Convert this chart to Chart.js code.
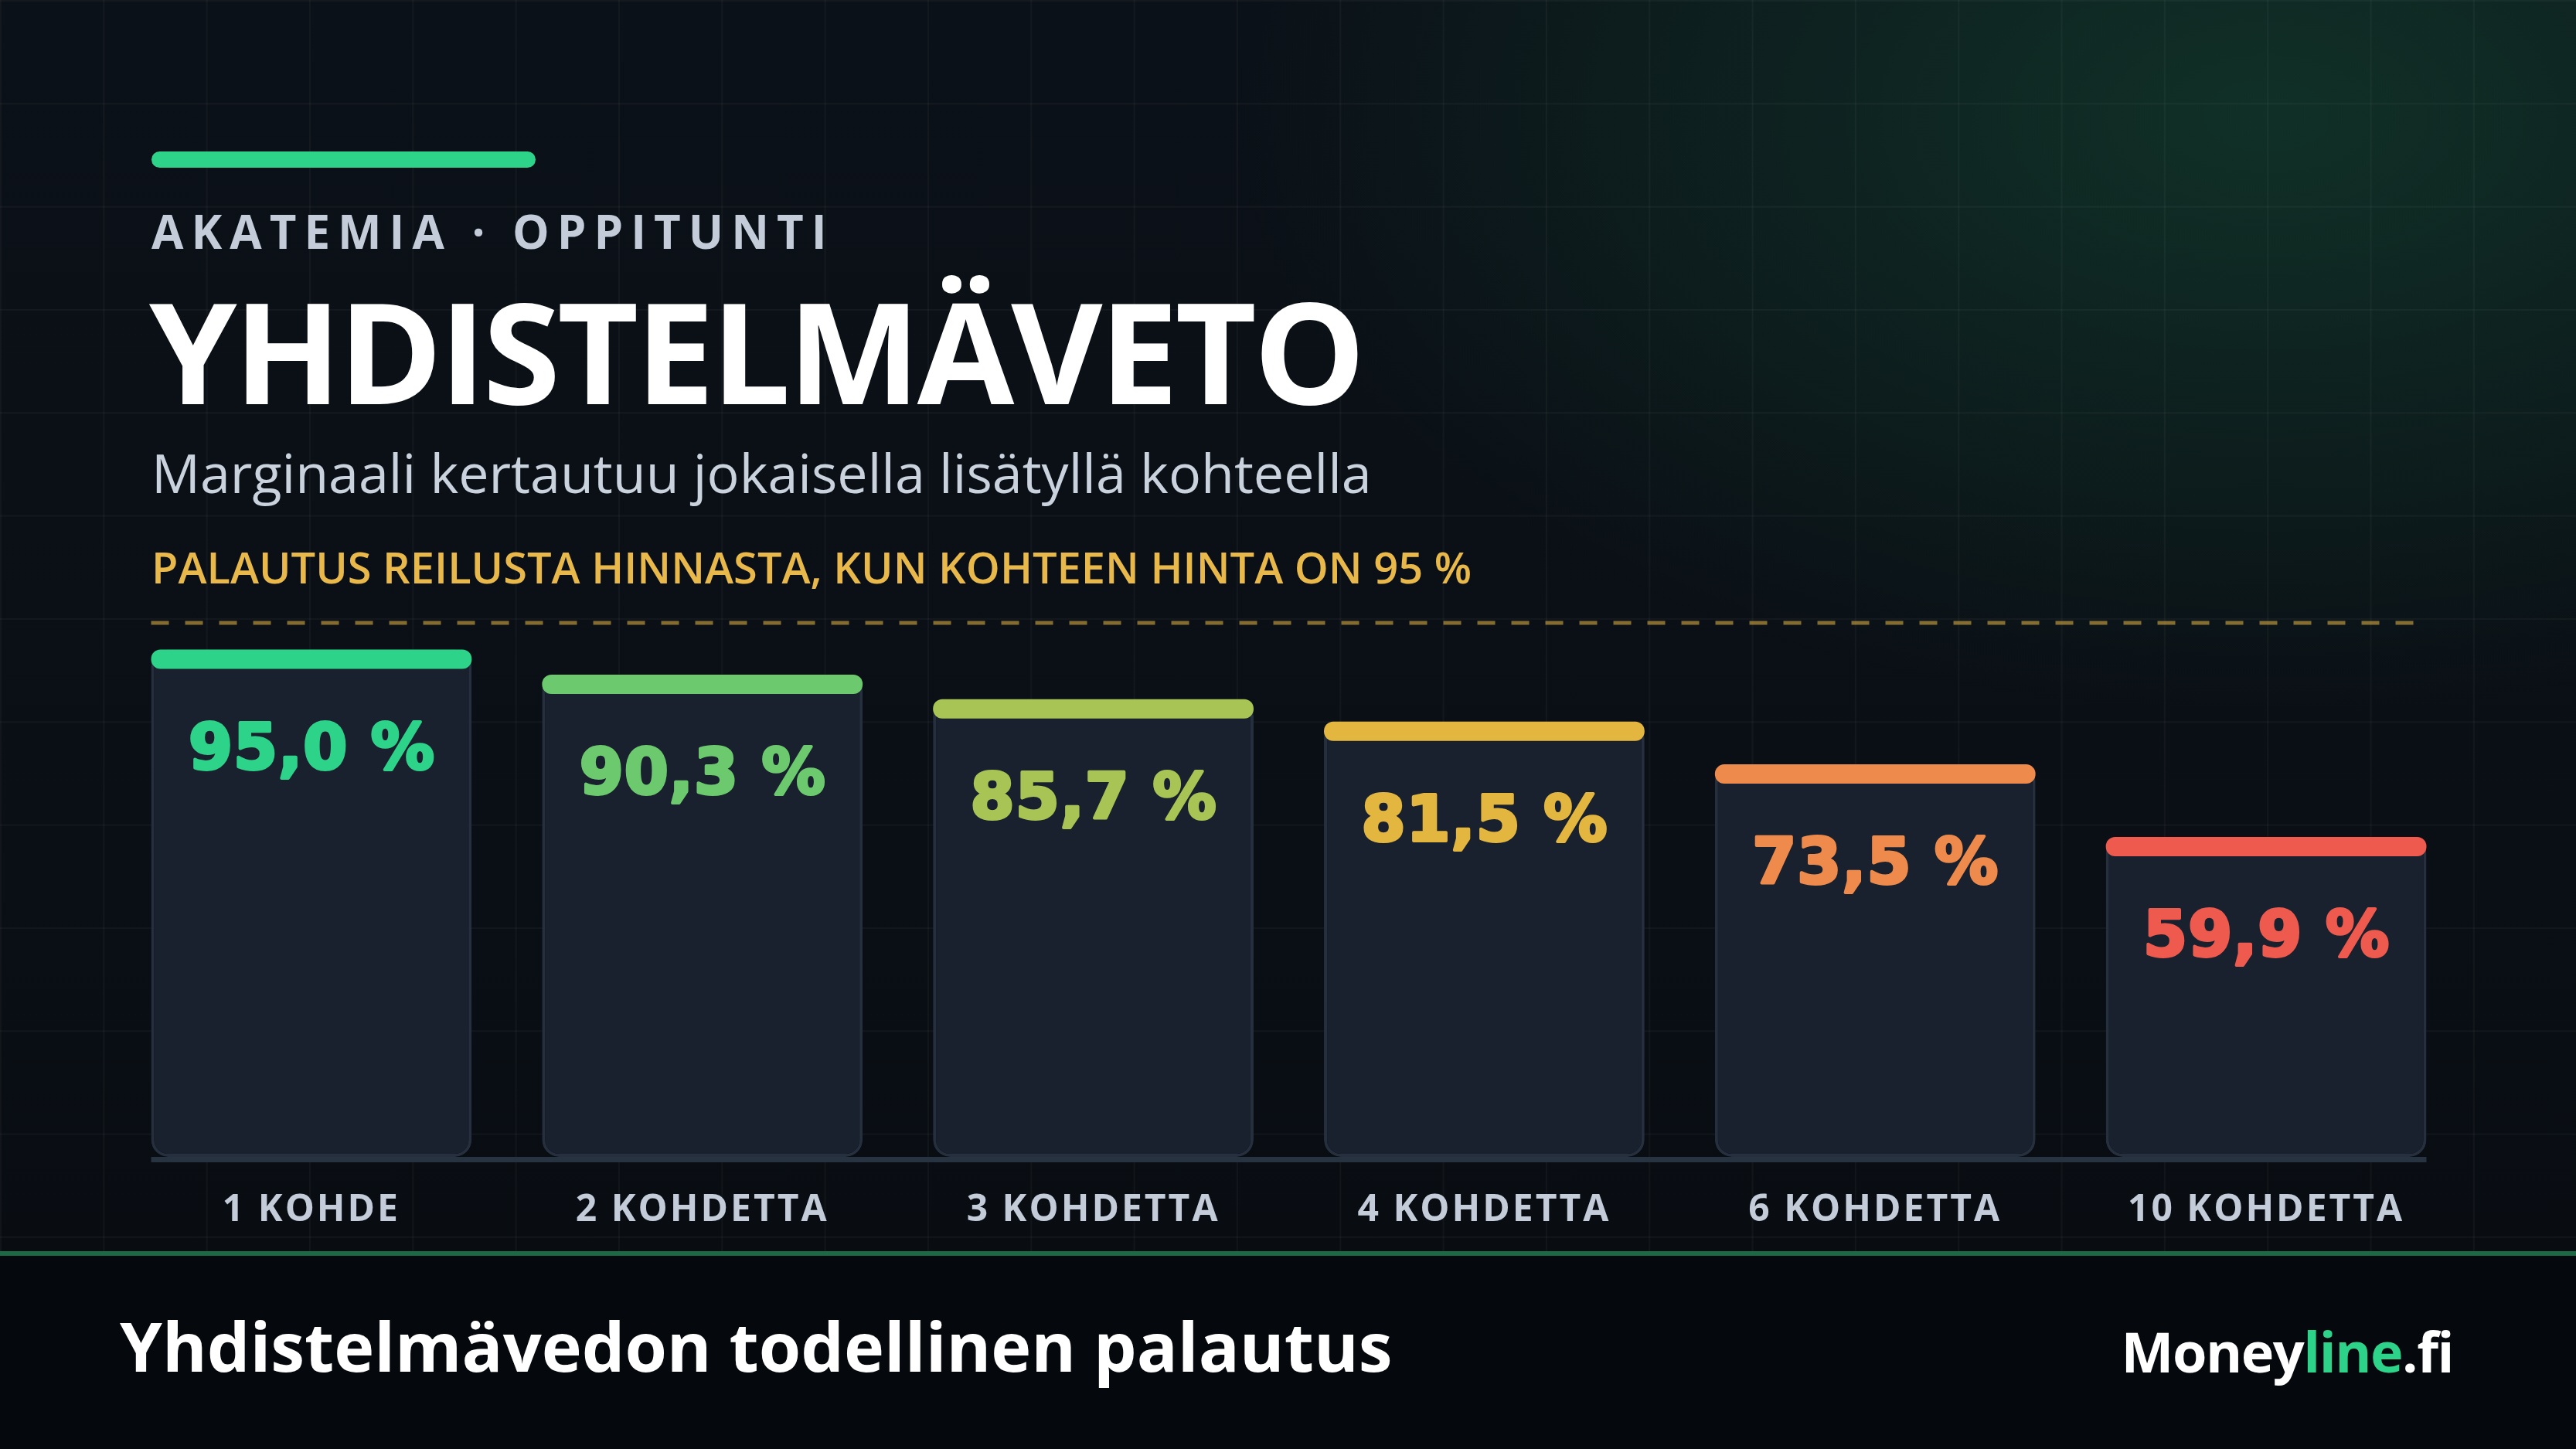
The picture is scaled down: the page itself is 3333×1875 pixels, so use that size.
<!DOCTYPE html>
<html>
<head>
<meta charset="utf-8">
<script src="https://cdn.jsdelivr.net/npm/chart.js@4.4.1/dist/chart.umd.min.js"></script>
<style>
  html, body { margin: 0; padding: 0; }
  body {
    width: 3333px; height: 1875px; position: relative; overflow: hidden;
    background:
      radial-gradient(ellipse 1900px 1100px at 88% 8%, rgba(24, 92, 60, 0.42), rgba(24, 92, 60, 0) 70%),
      linear-gradient(180deg, #0b1118 0%, #0a0f15 60%, #080c11 100%);
    font-family: "Open Sans", sans-serif;
  }
  #grid {
    position: absolute; left: 0; top: 0; width: 3333px; height: 1619px;
    background-image:
      linear-gradient(to right, rgba(255,255,255,0.035) 2px, transparent 2px),
      linear-gradient(to bottom, rgba(255,255,255,0.035) 2px, transparent 2px);
    background-size: 133.333px 133.333px;
  }
  #footer {
    position: absolute; left: 0; top: 1619px; width: 3333px; height: 256px;
    background: #05080c; border-top: 6px solid #1c6a45; box-sizing: border-box;
  }
  #accent {
    position: absolute; left: 196px; top: 196px; width: 497px; height: 21px;
    border-radius: 11px; background: #2ed38a;
  }
  .txt { position: absolute; white-space: nowrap; line-height: 1; }
  #kicker { left: 196px; top: 269px; font-size: 60px; font-weight: 700; letter-spacing: 10px; color: #c3ccd8; }
  #title { left: 193px; top: 361px; font-size: 182px; font-weight: 700; letter-spacing: -4px; color: #ffffff; }
  #subtitle { left: 196px; top: 576px; font-size: 70px; font-weight: 400; color: #c9d2dd; }
  #note { left: 196px; top: 705px; font-size: 56px; font-weight: 600; color: #e8b84a; }
  #foottitle { left: 155px; top: 1697px; font-size: 88px; font-weight: 700; color: #ffffff; }
  #brand { right: 159px; top: 1712px; font-size: 72px; font-weight: 700; letter-spacing: -1.5px; color: #ffffff; }
  #brand span { color: #2ed38a; }
  canvas { position: absolute; left: 0; top: 0; }
</style>
</head>
<body>
<div id="grid"></div>
<div id="footer"></div>
<div id="accent"></div>
<div class="txt" id="kicker">AKATEMIA · OPPITUNTI</div>
<div class="txt" id="title">YHDISTELMÄVETO</div>
<div class="txt" id="subtitle">Marginaali kertautuu jokaisella lisätyllä kohteella</div>
<div class="txt" id="note">PALAUTUS REILUSTA HINNASTA, KUN KOHTEEN HINTA ON 95 %</div>
<div class="txt" id="foottitle">Yhdistelmävedon todellinen palautus</div>
<div class="txt" id="brand">Money<span>line</span>.fi</div>
<canvas id="chart" width="3333" height="1875"></canvas>
<script>
// palautus reilusta hinnasta (%) kohteiden määrän mukaan
var categories = ['1 KOHDE', '2 KOHDETTA', '3 KOHDETTA', '4 KOHDETTA', '6 KOHDETTA', '10 KOHDETTA'];
var returns = [95.0, 90.3, 85.7, 81.5, 73.5, 59.9];
var capColors = ['#2ed38a', '#6cc96e', '#a8c455', '#e3b640', '#ee8a4b', '#ee5a4e'];
var fairLine = 100;

function formatPct(v) {
  return v.toFixed(1).replace('.', ',') + ' %';
}

function roundRect(ctx, x, y, w, h, r) {
  ctx.beginPath();
  ctx.moveTo(x + r, y);
  ctx.lineTo(x + w - r, y);
  ctx.arcTo(x + w, y, x + w, y + r, r);
  ctx.lineTo(x + w, y + h - r);
  ctx.arcTo(x + w, y + h, x + w - r, y + h, r);
  ctx.lineTo(x + r, y + h);
  ctx.arcTo(x, y + h, x, y + h - r, r);
  ctx.lineTo(x, y + r);
  ctx.arcTo(x, y, x + r, y, r);
  ctx.closePath();
}

var decorations = {
  id: 'decorations',
  beforeDraw: function(chart) {
    chart.ctx.letterSpacing = '3px';
  },
  beforeDatasetsDraw: function(chart) {
    var ctx = chart.ctx;
    var bars = chart.getDatasetMeta(0).data;
    var left = bars[0].x - bars[0].width / 2;
    var right = bars[bars.length - 1].x + bars[bars.length - 1].width / 2;
    var y = chart.scales.y.getPixelForValue(fairLine);
    ctx.save();
    ctx.strokeStyle = 'rgba(232, 184, 74, 0.55)';
    ctx.lineWidth = 5;
    ctx.setLineDash([23, 21]);
    ctx.beginPath();
    ctx.moveTo(left, y);
    ctx.lineTo(right, y);
    ctx.stroke();
    ctx.restore();
  },
  afterDatasetsDraw: function(chart) {
    var ctx = chart.ctx;
    var bars = chart.getDatasetMeta(0).data;
    var y0 = chart.scales.y.getPixelForValue(0);
    var left = bars[0].x - bars[0].width / 2;
    var right = bars[bars.length - 1].x + bars[bars.length - 1].width / 2;
    ctx.save();
    ctx.fillStyle = '#283342';
    ctx.fillRect(left, y0, right - left, 7);

    bars.forEach(function(bar, i) {
      var x = bar.x - bar.width / 2;
      ctx.fillStyle = capColors[i];
      roundRect(ctx, x, bar.y, bar.width, 25, 12);
      ctx.fill();

      // raskas numerofontti: täyttö + saman värinen reunaviiva
      ctx.font = 'bold 82px "DejaVu Sans"';
      ctx.textAlign = 'center';
      ctx.textBaseline = 'alphabetic';
      ctx.letterSpacing = '1px';
      ctx.lineJoin = 'round';
      ctx.lineWidth = 4;
      ctx.strokeStyle = capColors[i];
      ctx.fillStyle = capColors[i];
      ctx.strokeText(formatPct(returns[i]), bar.x + 0.5, bar.y + 154);
      ctx.fillText(formatPct(returns[i]), bar.x + 0.5, bar.y + 154);
    });
    ctx.restore();
  }
};

new Chart(document.getElementById('chart').getContext('2d'), {
  type: 'bar',
  data: {
    labels: categories,
    datasets: [{
      label: 'Palautus',
      data: returns,
      backgroundColor: '#19202e',
      borderColor: '#262f3d',
      borderWidth: 4,
      borderRadius: 22,
      borderSkipped: false,
      categoryPercentage: 1,
      barPercentage: 0.82
    }]
  },
  options: {
    responsive: false,
    devicePixelRatio: 1,
    animation: false,
    layout: { padding: { left: 150, right: 148, top: 806, bottom: 0 } },
    plugins: { legend: { display: false }, tooltip: { enabled: false } },
    scales: {
      y: { display: false, min: 0, max: 100 },
      x: {
        grid: { display: false, drawTicks: false },
        border: { display: false },
        ticks: {
          color: '#c3ccd8',
          padding: 41,
          font: { family: 'Open Sans', size: 48, weight: 'bold', lineHeight: 1.2 }
        },
        afterFit: function(scale) { scale.height = 378; }
      }
    }
  },
  plugins: [decorations]
});
</script>
</body>
</html>
